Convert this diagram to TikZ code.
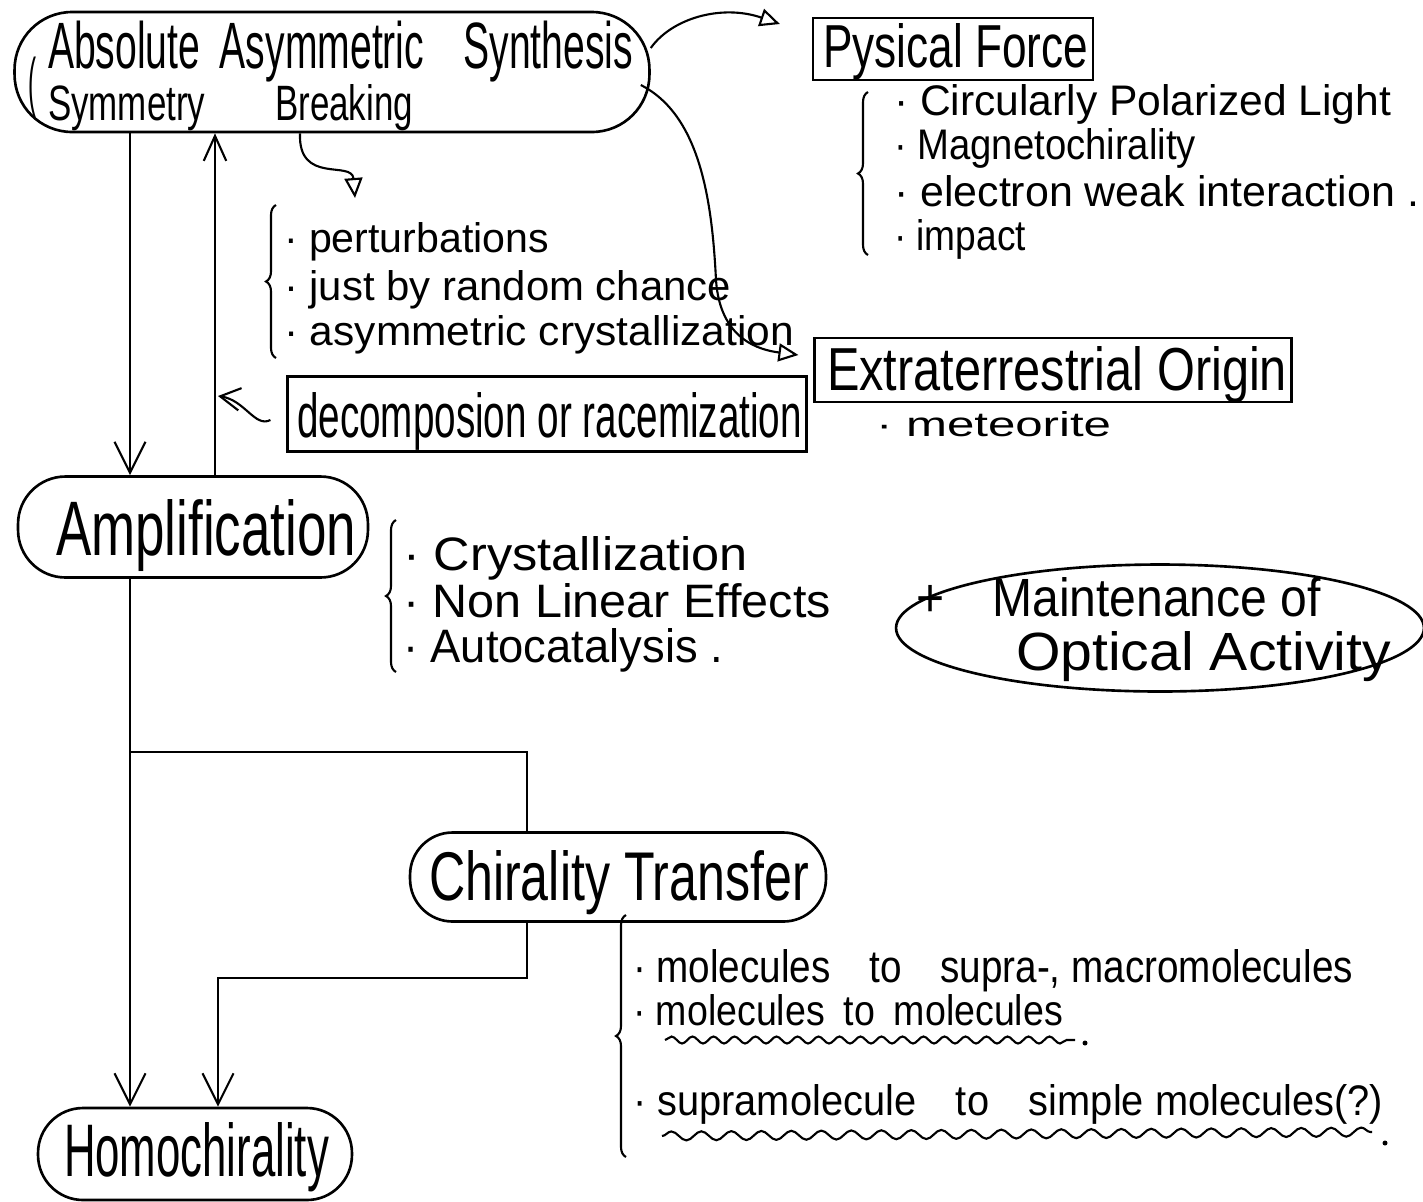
\documentclass[tikz,border=0pt]{standalone}
\usepackage{fontspec}
\setmainfont{Liberation Sans}
\usepackage{graphicx}
\usetikzlibrary{arrows.meta,shapes.geometric,decorations.pathreplacing,decorations.pathmorphing,calc}
\newcommand{\hw}[3]{\resizebox{#1}{#2}{\vphantom{Ahl}#3}}
\begin{document}
\begin{tikzpicture}[x=0.02cm,y=-0.02cm,line width=1.2pt,
  bub/.style={draw,rectangle,inner sep=0pt,line width=1.5pt},
  boxx/.style={draw,rectangle,inner sep=0pt,line width=1.3pt},
  txt/.style={inner sep=0pt,anchor=base west},
  vtip/.style={-{Straight Barb[length=0.62cm,width=0.62cm]}},
  vtips/.style={-{Straight Barb[length=0.5cm,width=0.45cm]}},
  ttip/.style={-{Triangle[open,length=0.4cm,width=0.36cm]}},
  brc/.style={decorate,decoration={brace,amplitude=0.2cm}},
  wavy/.style={decorate,decoration={snake,amplitude=0.07cm,segment length=0.42cm}}]
\useasboundingbox (0,0) rectangle (1423,1201);
% shapes and texts
\node[bub,minimum width=12.7cm,minimum height=2.4cm,rounded corners=1.15cm] (aas) at (332,72) {};
\node[txt] (aast1) at (47,68) {\hw{11.7cm}{0.95cm}{Absolute\enspace Asymmetric\quad Synthesis}};
\node[txt] (aast2) at (47,120) {\hw{7.3cm}{0.72cm}{Symmetry\qquad Breaking}};
\node[inner sep=0pt] (aasp) at (32,88) {\resizebox{0.16cm}{0.95cm}{(}};
\node[boxx,minimum width=5.6cm,minimum height=1.24cm] (pf) at (953,49) {};
\node[txt] (pft) at (822,67) {\hw{5.3cm}{0.88cm}{Pysical Force}};
\node[txt] (pf1) at (893,115) {\hw{9.94cm}{0.62cm}{· Circularly Polarized Light}};
\node[txt] (pf2) at (893,159) {\hw{6.04cm}{0.62cm}{· Magnetochirality}};
\node[txt] (pf3) at (893,206) {\hw{10.5cm}{0.62cm}{· electron weak interaction .}};
\node[txt] (pf4) at (893,250) {\hw{2.64cm}{0.62cm}{· impact}};
\node[txt] (b1t) at (283,252) {\hw{5.3cm}{0.6cm}{· perturbations}};
\node[txt] (b2t) at (283,300) {\hw{8.94cm}{0.6cm}{· just by random chance}};
\node[txt] (b3t) at (283,345) {\hw{10.2cm}{0.6cm}{· asymmetric crystallization}};
\node[boxx,minimum width=10.38cm,minimum height=1.5cm] (dr) at (547,414) {};
\node[txt] (drt) at (296,437) {\hw{10.1cm}{0.9cm}{decomposion or racemization}};
\node[boxx,minimum width=9.54cm,minimum height=1.28cm] (eo) at (1053,370) {};
\node[txt] (eot) at (826,390) {\hw{9.2cm}{0.88cm}{Extraterrestrial Origin}};
\node[txt] (met) at (875,436) {\hw{4.7cm}{0.5cm}{· meteorite}};
\node[bub,minimum width=7cm,minimum height=2.02cm,rounded corners=0.95cm] (amp) at (193,527) {};
\node[txt] (ampt) at (55,555) {\hw{6cm}{1.12cm}{Amplification}};
\node[txt] (a1) at (402,570) {\hw{6.9cm}{0.68cm}{· Crystallization}};
\node[txt] (a2) at (402,617) {\hw{8.56cm}{0.68cm}{· Non Linear Effects}};
\node[txt] (a3) at (402,662) {\hw{6.4cm}{0.68cm}{· Autocatalysis .}};
\node[draw,ellipse,line width=1.5pt,minimum width=10.56cm,minimum height=2.54cm,inner sep=0pt] (mo) at (1160,628) {};
\node[txt] (mo1) at (915,616) {\hw{8.1cm}{0.78cm}{+\quad Maintenance of}};
\node[txt] (mo2) at (1015,670) {\hw{7.5cm}{0.78cm}{Optical Activity}};
\node[bub,minimum width=8.32cm,minimum height=1.78cm,rounded corners=0.85cm] (ct) at (618,877) {};
\node[txt] (ctt) at (428,900) {\hw{7.6cm}{1.0cm}{Chirality Transfer}};
\node[bub,minimum width=6.28cm,minimum height=1.84cm,rounded corners=0.9cm] (hc) at (195,1154) {};
\node[txt] (hct) at (63,1176) {\hw{5.3cm}{1.08cm}{Homochirality}};
\node[txt] (c1t) at (632,982) {\hw{14.4cm}{0.66cm}{· molecules\quad to\quad supra-, macromolecules}};
\node[txt] (c2t) at (632,1025) {\hw{8.6cm}{0.62cm}{· molecules\enspace to\enspace molecules}};
\node[txt] (c3t) at (632,1115) {\hw{15.0cm}{0.62cm}{· supramolecule\quad to\quad simple molecules(?)}};
% braces
\draw[brc] (868,255) -- (868,92);
\draw[brc] (276,358) -- (276,205);
\draw[brc] (396,672) -- (396,520);
\draw[brc] (626,1157) -- (626,915);
% wavy underlines
\draw[wavy] (665,1040) -- (1075,1040);
\fill (1085,1043) circle (0.05cm);
\draw[wavy,decoration={snake,amplitude=0.09cm,segment length=0.6cm}] (662,1136) -- (1372,1132);
\fill (1385,1143) circle (0.05cm);
% coordinates
\coordinate (xa) at (130,0);
\coordinate (xb) at (215,0);
\coordinate (xc) at (300,0);
\coordinate (xd) at (527,0);
\coordinate (j1) at (130,752);
\coordinate (j2) at (218,978);
\coordinate (bk) at (355,198);
\coordinate (c3) at (218,396);
% connectors
\draw[vtip] (aas.south -| xa) -- (amp.north -| xa);
\draw[vtips] (amp.north -| xb) -- (aas.south -| xb);
\draw[vtip] (amp.south -| xa) -- (hc.north -| xa);
\draw (j1) -| (ct.north -| xd);
\draw[vtip] (ct.south -| xd) |- (j2) -- (hc.north -| j2);
\draw[ttip] (aas.south -| xc) .. controls (298,185) and (352,160) .. (bk);
\draw[ttip] ([yshift=0.48cm]aas.east) .. controls (672,18) and (722,4) .. ([xshift=-0.64cm,yshift=0.5cm]pf.west);
\draw[ttip] ([xshift=-0.2cm,yshift=-0.26cm]aas.east) .. controls (700,115) and (712,200) .. (716,280) .. controls (720,340) and (760,350) .. ([xshift=-0.3cm,yshift=0.3cm]eo.west);
\draw[-{Straight Barb[length=0.4cm,width=0.45cm]}] ([xshift=-0.32cm,yshift=-0.12cm]dr.west) .. controls (255,428) and (245,400) .. (c3);
\end{tikzpicture}
\end{document}
